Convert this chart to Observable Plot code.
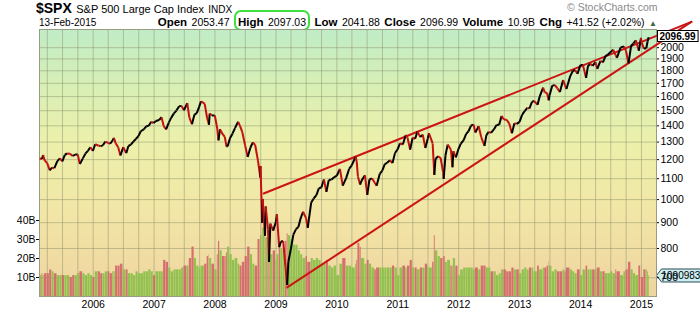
<!DOCTYPE html>
<html>
<head>
<meta charset="utf-8">
<script src="https://cdn.jsdelivr.net/npm/d3@7"></script>
<script src="https://cdn.jsdelivr.net/npm/@observablehq/plot@0.6"></script>
<style>
  html, body { margin: 0; padding: 0; background: #fff; }
  #root { position: relative; width: 700px; height: 312px; background: #fff; font-family: "Liberation Sans", Arial, sans-serif; color: #000; overflow: hidden; }
  .layer { position: absolute; left: 0; top: 28px; }
  .hdr { position: absolute; white-space: nowrap; }
  .lbl { font-weight: bold; font-size: 11.5px; }
  .val { font-size: 10.5px; }
</style>
</head>
<body>
<div id="root">
  <div class="hdr" style="left:36px; top:1px; line-height:14px;">
    <span style="font-weight:bold; font-size:14px;" id="sym"></span>
    <span style="font-size:11px;" id="name"></span>
    <span style="font-size:10px;" id="exch"></span>
  </div>
  <div class="hdr" style="left:567px; top:2px; line-height:11px; font-size:10.5px; color:#8a8a8a;">© StockCharts.com</div>
  <div class="hdr" style="left:39px; top:17px; line-height:11px; font-size:10px;" id="datelbl"></div>
  <div class="hdr" style="right:43px; top:15px; line-height:12px;" id="ohlc"></div>
  <div id="chart"></div>
</div>
<script>
// ---------- header values ----------
const symbol = "$SPX";
const indexName = "S&P 500 Large Cap Index";
const exchange = "INDX";
const lastDate = "13-Feb-2015";
const openVal = "2053.47", highVal = "2097.03", lowVal = "2041.88", closeVal = "2096.99";
const volumeVal = "10.9B", changeVal = "+41.52 (+2.02%)";
const lastVolumeLabel = "1090983";

// ---------- price / volume series (approx. semi-monthly) ----------
const dates = [
"2005-02-14","2005-02-28","2005-03-07","2005-03-15","2005-03-31","2005-04-15","2005-04-29","2005-05-13","2005-05-31","2005-06-15","2005-06-30","2005-07-15","2005-07-29","2005-08-15","2005-08-31","2005-09-15","2005-09-30","2005-10-13","2005-10-31","2005-11-15","2005-11-30","2005-12-15","2005-12-30",
"2006-01-13","2006-01-31","2006-02-15","2006-02-28","2006-03-15","2006-03-31","2006-04-13","2006-04-28","2006-05-05","2006-05-15","2006-05-31","2006-06-13","2006-06-30","2006-07-18","2006-07-31","2006-08-15","2006-08-31","2006-09-15","2006-09-29","2006-10-13","2006-10-31","2006-11-15","2006-11-30","2006-12-15","2006-12-29",
"2007-01-12","2007-01-31","2007-02-15","2007-02-27","2007-03-14","2007-03-30","2007-04-13","2007-04-30","2007-05-15","2007-05-31","2007-06-15","2007-06-29","2007-07-19","2007-07-31","2007-08-16","2007-08-31","2007-09-14","2007-09-28","2007-10-09","2007-10-31","2007-11-15","2007-11-26","2007-11-30","2007-12-14","2007-12-31",
"2008-01-15","2008-01-22","2008-01-31","2008-02-15","2008-02-29","2008-03-10","2008-03-17","2008-03-31","2008-04-15","2008-04-30","2008-05-19","2008-05-30","2008-06-13","2008-06-30","2008-07-15","2008-07-31","2008-08-15","2008-08-29","2008-09-15","2008-09-29","2008-09-30","2008-10-10","2008-10-13","2008-10-27","2008-10-31","2008-11-14","2008-11-20","2008-11-28","2008-12-15","2008-12-31",
"2009-01-06","2009-01-20","2009-01-30","2009-02-13","2009-02-27","2009-03-09","2009-03-16","2009-03-31","2009-04-15","2009-04-30","2009-05-15","2009-05-29","2009-06-12","2009-06-30","2009-07-10","2009-07-31","2009-08-14","2009-08-31","2009-09-15","2009-09-30","2009-10-15","2009-10-30","2009-11-13","2009-11-30","2009-12-15","2009-12-31",
"2010-01-19","2010-02-05","2010-02-26","2010-03-15","2010-03-31","2010-04-23","2010-04-30","2010-05-07","2010-05-20","2010-05-28","2010-06-18","2010-07-02","2010-07-15","2010-07-30","2010-08-16","2010-08-27","2010-09-15","2010-09-30","2010-10-15","2010-10-29","2010-11-15","2010-11-30","2010-12-15","2010-12-31",
"2011-01-14","2011-01-31","2011-02-18","2011-02-28","2011-03-16","2011-03-31","2011-04-15","2011-04-29","2011-05-16","2011-05-31","2011-06-15","2011-06-30","2011-07-07","2011-07-29","2011-08-08","2011-08-15","2011-08-31","2011-09-15","2011-09-30","2011-10-03","2011-10-14","2011-10-27","2011-11-15","2011-11-25","2011-11-30","2011-12-15","2011-12-30",
"2012-01-13","2012-01-31","2012-02-15","2012-02-29","2012-03-15","2012-03-30","2012-04-10","2012-04-30","2012-05-15","2012-06-04","2012-06-15","2012-06-29","2012-07-13","2012-07-31","2012-08-15","2012-08-31","2012-09-14","2012-09-28","2012-10-15","2012-10-31","2012-11-15","2012-11-30","2012-12-14","2012-12-31",
"2013-01-15","2013-01-31","2013-02-15","2013-02-28","2013-03-15","2013-03-28","2013-04-18","2013-04-30","2013-05-21","2013-05-31","2013-06-14","2013-06-24","2013-06-28","2013-07-15","2013-07-31","2013-08-15","2013-08-30","2013-09-18","2013-09-30","2013-10-08","2013-10-31","2013-11-15","2013-11-29","2013-12-13","2013-12-31",
"2014-01-15","2014-02-03","2014-02-14","2014-02-28","2014-03-14","2014-03-31","2014-04-11","2014-04-30","2014-05-15","2014-05-30","2014-06-13","2014-06-30","2014-07-15","2014-07-31","2014-08-07","2014-08-29","2014-09-18","2014-09-30","2014-10-15","2014-10-31","2014-11-14","2014-11-28","2014-12-16","2014-12-29","2014-12-31",
"2015-01-15","2015-01-30","2015-02-06","2015-02-13"
];
const closes = [
1206,1204,1225,1197,1181,1143,1157,1154,1192,1207,1191,1227,1234,1233,1220,1228,1229,1176,1207,1233,1249,1270,1248,
1287,1280,1276,1281,1303,1295,1290,1311,1325,1294,1270,1223,1270,1236,1277,1285,1304,1320,1336,1366,1378,1397,1401,1427,1418,
1431,1438,1456,1400,1377,1421,1452,1482,1501,1531,1533,1503,1553,1455,1411,1474,1484,1527,1565,1549,1451,1407,1481,1467,1468,
1380,1310,1379,1349,1331,1273,1276,1323,1351,1386,1426,1400,1360,1280,1215,1267,1298,1283,1193,1106,1166,899,1003,848,969,873,752,896,868,903,
935,805,826,827,735,677,753,798,852,873,882,919,946,919,879,987,1004,1021,1053,1057,1096,1036,1093,1096,1107,1115,
1150,1066,1104,1150,1169,1217,1187,1111,1071,1089,1117,1022,1096,1102,1080,1065,1125,1141,1176,1183,1197,1181,1236,1258,
1293,1286,1343,1327,1256,1326,1320,1364,1330,1345,1266,1321,1353,1292,1119,1204,1219,1209,1131,1099,1224,1285,1257,1159,1247,1212,1258,
1290,1312,1350,1366,1402,1408,1358,1398,1330,1278,1342,1362,1356,1379,1405,1407,1465,1441,1440,1412,1353,1416,1413,1426,
1472,1498,1520,1515,1561,1569,1541,1598,1667,1631,1626,1573,1606,1682,1686,1661,1633,1725,1682,1656,1757,1798,1806,1775,1848,
1848,1742,1838,1859,1841,1872,1815,1884,1870,1924,1937,1960,1981,1931,1910,2003,2011,1972,1862,2018,2039,2068,1972,2091,2059,
1992,1995,2055,2096.99
];
// volume in billions
const volumes = [
11,12,11,12,12,14,13,12,11,11,11,11,11,10,11,11,12,13,12,11,12,11,10,
13,13,12,12,13,13,12,13,13,16,16,17,14,14,12,12,11,13,12,12,13,13,14,13,11,
13,13,13,19,18,15,13,14,14,14,15,16,16,20,26,20,16,15,16,17,21,22,20,17,14,
22,29,24,21,21,23,26,22,19,20,17,16,18,21,26,22,17,16,30,36,32,44,36,34,31,29,36,22,24,19,
22,28,25,24,29,33,32,30,27,27,24,22,20,21,18,20,19,20,19,17,17,19,16,15,16,11,
17,20,16,16,15,17,19,28,26,20,17,19,17,15,14,15,15,15,15,15,15,16,15,11,
15,16,15,16,19,15,15,14,15,15,17,16,15,18,32,24,21,20,20,21,18,19,16,16,20,16,11,
14,15,15,15,15,14,15,14,16,16,15,15,13,13,11,12,14,14,13,13,15,14,14,12,
14,15,14,15,15,13,16,14,15,15,16,18,16,13,14,13,13,14,13,15,14,13,12,14,11,
14,16,14,14,14,14,15,13,13,12,12,13,12,14,13,11,13,14,18,14,12,11,16,12,10,
14,14,13,10.9
];

// trend lines (endpoints)
const upperTrend = [{date: "2008-10-19", value: 1028}, {date: "2015-10-27", value: 2250}];
const lowerTrend = [{date: "2009-03-09", value: 670}, {date: "2015-10-27", value: 2250}];

// axis ticks
const priceTicks = [700, 800, 900, 1000, 1100, 1200, 1300, 1400, 1500, 1600, 1700, 1800, 1900, 2000];
const volumeTicks = [10, 20, 30, 40];
const yearTicks = ["2006","2007","2008","2009","2010","2011","2012","2013","2014","2015"];

// ---------- header ----------
document.getElementById("sym").textContent = symbol;
document.getElementById("name").textContent = indexName;
document.getElementById("exch").textContent = exchange;
document.getElementById("datelbl").textContent = lastDate;
document.getElementById("ohlc").innerHTML =
  `<span class="lbl">Open</span> <span class="val">${openVal}</span> ` +
  `<span style="border:2px solid #3ee03e; border-radius:7px; padding:0 2px 0 2px;"><span class="lbl">High</span> <span class="val">${highVal}</span></span> ` +
  `<span class="lbl">Low</span> <span class="val">${lowVal}</span> ` +
  `<span class="lbl">Close</span> <span class="val">${closeVal}</span> ` +
  `<span class="lbl">Volume</span> <span class="val">${volumeVal}</span> ` +
  `<span class="lbl">Chg</span> <span class="val">${changeVal}</span> <span style="font-size:8px; color:#3a6a3a;">▲</span>`;

// ---------- build table ----------
const parse = d3.utcParse("%Y-%m-%d");
const rows = dates.map((d, i) => ({
  date: parse(d),
  close: closes[i],
  vol: volumes[i],
  up: i === 0 ? true : closes[i] >= closes[i - 1]
}));
rows.forEach((r, i) => {
  r.next = i < rows.length - 1 ? rows[i + 1].date : d3.utcDay.offset(r.date, 6);
});
const segments = rows.slice(1).map((r, i) => ({
  d0: rows[i].date, c0: rows[i].close, d1: r.date, c1: r.close,
  col: r.up ? "#000000" : "#c41010"
}));
const last = rows[rows.length - 1];
const upper = upperTrend.map(p => ({date: parse(p.date), value: p.value}));
const lower = lowerTrend.map(p => ({date: parse(p.date), value: p.value}));

// ---------- layout ----------
const W = 700, H = 284;
const M = {marginTop: 1, marginBottom: 16, marginLeft: 39, marginRight: 44};
const xDomain = [parse("2005-02-13"), parse("2015-04-01")];
const priceDomain = [642.6, 2173];
const volDomain = [0, 140.5];
const quarterTicks = d3.utcMonth.every(3).range(xDomain[0], xDomain[1]);
const font = "'Liberation Sans', Arial, sans-serif";
const gridColor = "#8e9470";

const chart = document.getElementById("chart");

// box helper: draws a shape behind a Plot text, in the text's own coordinate frame
function boxText(svgNode, shape) {
  const t = svgNode.querySelector('g[aria-label="text"] text');
  if (!t) return;
  const b = t.getBBox();
  const tr = t.getAttribute("transform");
  const parent = d3.select(t.parentNode);
  if (shape === "rect") {
    parent.insert("rect", "text")
      .attr("transform", tr)
      .attr("x", b.x - 2).attr("y", b.y).attr("width", b.width + 4).attr("height", b.height)
      .attr("fill", "#fff").attr("stroke", "#000").attr("stroke-width", 1);
  } else {
    const p = [[b.x - 5, b.y + b.height / 2], [b.x, b.y - 1], [b.x + b.width + 2, b.y - 1], [b.x + b.width + 2, b.y + b.height + 1], [b.x, b.y + b.height + 1]];
    parent.insert("polygon", "text")
      .attr("transform", tr)
      .attr("points", p.map(q => q.join(",")).join(" "))
      .attr("fill", "#cdeef2").attr("stroke", "#2a4a55").attr("stroke-width", 1);
  }
}

// layer 1: background + grid + x axis
const bg = Plot.plot({
  width: W, height: H, ...M,
  style: {background: "transparent", fontFamily: font, fontSize: "10.5px", color: "#000", overflow: "visible"},
  x: {type: "utc", domain: xDomain, ticks: yearTicks.map(y => d3.utcParse("%Y")(y)), tickFormat: d3.utcFormat("%Y"), tickSize: 0, tickPadding: 4, label: null},
  y: {type: "log", domain: priceDomain, axis: null},
  marks: [
    Plot.frame({fill: "#f0eaa8"}),
    Plot.ruleX(quarterTicks, {stroke: gridColor, strokeOpacity: 0.5, strokeWidth: 1}),
    Plot.ruleY(priceTicks, {stroke: gridColor, strokeOpacity: 0.5, strokeWidth: 1})
  ]
});
bg.classList.add("layer");
chart.appendChild(bg);
{
  const svg = d3.select(bg);
  const defs = svg.insert("defs", ":first-child");
  const g = defs.append("linearGradient").attr("id", "bgGrad").attr("x1", 0).attr("y1", 0).attr("x2", 0).attr("y2", 1);
  [["0%", "#c0ecc6"], ["20%", "#d6efb6"], ["42%", "#ecf0aa"], ["68%", "#f2e6a6"], ["100%", "#efd4a0"]]
    .forEach(([o, c]) => g.append("stop").attr("offset", o).attr("stop-color", c));
  svg.selectAll('g[aria-label="frame"], g[aria-label="frame"] rect, rect[aria-label="frame"]')
    .attr("fill", "url(#bgGrad)").style("fill", "url(#bgGrad)");
}

// layer 2: volume
const vol = Plot.plot({
  width: W, height: H, ...M,
  style: {background: "transparent", fontFamily: font, fontSize: "10.5px", color: "#000", overflow: "visible"},
  x: {type: "utc", domain: xDomain, axis: null},
  y: {domain: volDomain, axis: "left", ticks: volumeTicks, tickFormat: d => d + "B", tickSize: 3, tickPadding: 1, label: null},
  color: {type: "identity"},
  marks: [
    Plot.rectY(rows, {x1: "date", x2: "next", y: "vol", fill: d => d.up ? "#8cc04c" : "#d26a6a", fillOpacity: 0.95, insetRight: 0.3}),
    Plot.text([last], {x: () => xDomain[1], y: "vol", text: () => lastVolumeLabel, textAnchor: "start", dx: 5, fontSize: 10})
  ]
});
vol.classList.add("layer");
chart.appendChild(vol);
boxText(vol, "pointer");

// layer 3: price
const price = Plot.plot({
  width: W, height: H, ...M,
  style: {background: "transparent", fontFamily: font, fontSize: "10.5px", color: "#000", overflow: "visible"},
  x: {type: "utc", domain: xDomain, axis: null},
  y: {type: "log", domain: priceDomain, axis: "right", ticks: priceTicks, tickFormat: d => String(d), tickSize: 2, tickPadding: 2, label: null},
  color: {type: "identity"},
  marks: [
    Plot.frame({stroke: "#9a9c82"}),
    Plot.line(upper, {x: "date", y: "value", stroke: "#cc1414", strokeWidth: 2}),
    Plot.line(lower, {x: "date", y: "value", stroke: "#cc1414", strokeWidth: 2}),
    Plot.link(segments, {x1: "d0", y1: "c0", x2: "d1", y2: "c1", stroke: "col", strokeWidth: 2}),
    Plot.text([last], {x: () => xDomain[1], y: "close", text: () => closeVal, textAnchor: "start", dx: 3, dy: -1, fontWeight: "bold", fontSize: 10})
  ]
});
price.classList.add("layer");
chart.appendChild(price);
boxText(price, "rect");
</script>
</body>
</html>
